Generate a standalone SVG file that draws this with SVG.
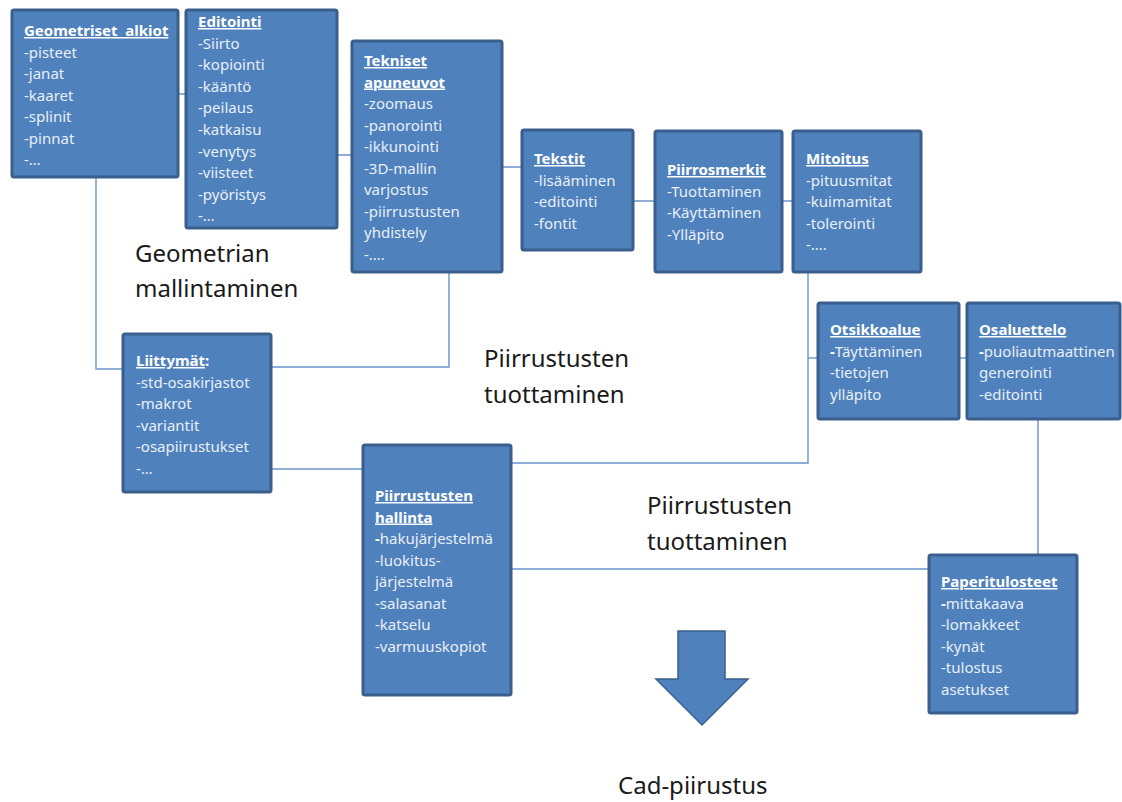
<svg xmlns="http://www.w3.org/2000/svg" width="1122" height="802" viewBox="0 0 1122 802">
  <defs>
    <style>
      .box { fill: #4f81bd; stroke: #3a5f8d; stroke-width: 3; }
      .link { fill: none; stroke: #6b93ca; stroke-width: 1.4; }
      .txt { font-family: "Noto Sans", "Liberation Sans", sans-serif; font-size: 15px; fill: #e9eff8; }
      .ttl { font-weight: bold; fill: #ffffff; text-decoration: underline; }
      .b { font-weight: bold; fill: #ffffff; }
      .big { font-family: "Noto Sans", "Liberation Sans", sans-serif; font-size: 24px; fill: #1a1a1a; }
    </style>
  </defs>
  <rect width="1122" height="802" fill="#ffffff"/>

  <!-- connectors -->
  <g id="connectors">
    <polyline class="link" points="179,94 263,94 263,155 352,155"/>
    <polyline class="link" points="96,178 96,369 123,369"/>
    <polyline class="link" points="449,272 449,367 272,367"/>
    <polyline class="link" points="478,167 623,167 623,201 793,201"/>
    <polyline class="link" points="808,272 808,463 511,463"/>
    <line class="link" x1="808" y1="358" x2="818" y2="358"/>
    <line class="link" x1="958" y1="358" x2="967" y2="358"/>
    <line class="link" x1="272" y1="469" x2="362" y2="469"/>
    <polyline class="link" points="1038,420 1038,569 511,569"/>
    <line class="link" x1="1038" y1="569" x2="929" y2="569"/>
  </g>

  <!-- boxes -->
  <g id="geometriset-alkiot">
    <rect class="box" x="12" y="10" width="166" height="167" rx="2"/>
    <text class="txt" x="24" y="36"><tspan class="ttl" xml:space="preserve">Geometriset  alkiot</tspan>
      <tspan x="24" dy="21.5">-pisteet</tspan>
      <tspan x="24" dy="21.5">-janat</tspan>
      <tspan x="24" dy="21.5">-kaaret</tspan>
      <tspan x="24" dy="21.5">-splinit</tspan>
      <tspan x="24" dy="21.5">-pinnat</tspan>
      <tspan x="24" dy="21.5">-…</tspan>
    </text>
  </g>

  <g id="editointi">
    <rect class="box" x="186" y="10" width="151" height="218" rx="2"/>
    <text class="txt" x="198" y="27"><tspan class="ttl">Editointi</tspan>
      <tspan x="198" dy="21.6">-Siirto</tspan>
      <tspan x="198" dy="21.6">-kopiointi</tspan>
      <tspan x="198" dy="21.6">-kääntö</tspan>
      <tspan x="198" dy="21.6">-peilaus</tspan>
      <tspan x="198" dy="21.6">-katkaisu</tspan>
      <tspan x="198" dy="21.6">-venytys</tspan>
      <tspan x="198" dy="21.6">-viisteet</tspan>
      <tspan x="198" dy="21.6">-pyöristys</tspan>
      <tspan x="198" dy="21.6">-…</tspan>
    </text>
  </g>

  <g id="tekniset-apuneuvot">
    <rect class="box" x="352" y="41" width="150" height="231" rx="2"/>
    <text class="txt" x="364" y="66"><tspan class="ttl">Tekniset</tspan>
      <tspan x="364" dy="21.5" class="ttl">apuneuvot</tspan>
      <tspan x="364" dy="21.5">-zoomaus</tspan>
      <tspan x="364" dy="21.5">-panorointi</tspan>
      <tspan x="364" dy="21.5">-ikkunointi</tspan>
      <tspan x="364" dy="21.5">-3D-mallin</tspan>
      <tspan x="364" dy="21.5">varjostus</tspan>
      <tspan x="364" dy="21.5">-piirrustusten</tspan>
      <tspan x="364" dy="21.5">yhdistely</tspan>
      <tspan x="364" dy="21.5">-….</tspan>
    </text>
  </g>

  <g id="tekstit">
    <rect class="box" x="522" y="130" width="111" height="120" rx="2"/>
    <text class="txt" x="534" y="164"><tspan class="ttl">Tekstit</tspan>
      <tspan x="534" dy="21.5">-lisääminen</tspan>
      <tspan x="534" dy="21.5">-editointi</tspan>
      <tspan x="534" dy="21.5">-fontit</tspan>
    </text>
  </g>

  <g id="piirrosmerkit">
    <rect class="box" x="655" y="131" width="127" height="141" rx="2"/>
    <text class="txt" x="667" y="175"><tspan class="ttl">Piirrosmerkit</tspan>
      <tspan x="667" dy="21.5">-Tuottaminen</tspan>
      <tspan x="667" dy="21.5">-Käyttäminen</tspan>
      <tspan x="667" dy="21.5">-Ylläpito</tspan>
    </text>
  </g>

  <g id="mitoitus">
    <rect class="box" x="793" y="131" width="128" height="141" rx="2"/>
    <text class="txt" x="806" y="164"><tspan class="ttl">Mitoitus</tspan>
      <tspan x="806" dy="21.5">-pituusmitat</tspan>
      <tspan x="806" dy="21.5">-kuimamitat</tspan>
      <tspan x="806" dy="21.5">-tolerointi</tspan>
      <tspan x="806" dy="21.5">-….</tspan>
    </text>
  </g>

  <g id="otsikkoalue">
    <rect class="box" x="818" y="303" width="141" height="116" rx="2"/>
    <text class="txt" x="830" y="335"><tspan class="ttl">Otsikkoalue</tspan>
      <tspan x="830" dy="21.5"><tspan class="b">-</tspan>Täyttäminen</tspan>
      <tspan x="830" dy="21.5">-tietojen</tspan>
      <tspan x="830" dy="21.5">ylläpito</tspan>
    </text>
  </g>

  <g id="osaluettelo">
    <rect class="box" x="967" y="303" width="153" height="116" rx="2"/>
    <text class="txt" x="979" y="335"><tspan class="ttl">Osaluettelo</tspan>
      <tspan x="979" dy="21.5"><tspan class="b">-</tspan>puoliautmaattinen</tspan>
      <tspan x="979" dy="21.5">generointi</tspan>
      <tspan x="979" dy="21.5">-editointi</tspan>
    </text>
  </g>

  <g id="liittymat">
    <rect class="box" x="123" y="334" width="148" height="158" rx="2"/>
    <text class="txt" x="136" y="366"><tspan class="ttl">Liittymät</tspan><tspan class="b">:</tspan>
      <tspan x="136" dy="21.5">-std-osakirjastot</tspan>
      <tspan x="136" dy="21.5">-makrot</tspan>
      <tspan x="136" dy="21.5">-variantit</tspan>
      <tspan x="136" dy="21.5">-osapiirustukset</tspan>
      <tspan x="136" dy="21.5">-…</tspan>
    </text>
  </g>

  <g id="piirrustusten-hallinta">
    <rect class="box" x="363" y="445" width="148" height="250" rx="2"/>
    <text class="txt" x="375" y="501"><tspan class="ttl">Piirrustusten</tspan>
      <tspan x="375" dy="21.5" class="ttl">hallinta</tspan>
      <tspan x="375" dy="21.5"><tspan class="b">-</tspan>hakujärjestelmä</tspan>
      <tspan x="375" dy="21.5">-luokitus-</tspan>
      <tspan x="375" dy="21.5">järjestelmä</tspan>
      <tspan x="375" dy="21.5">-salasanat</tspan>
      <tspan x="375" dy="21.5">-katselu</tspan>
      <tspan x="375" dy="21.5">-varmuuskopiot</tspan>
    </text>
  </g>

  <g id="paperitulosteet">
    <rect class="box" x="929" y="555" width="148" height="158" rx="2"/>
    <text class="txt" x="941" y="587"><tspan class="ttl">Paperitulosteet</tspan>
      <tspan x="941" dy="21.5"><tspan class="b">-</tspan>mittakaava</tspan>
      <tspan x="941" dy="21.5">-lomakkeet</tspan>
      <tspan x="941" dy="21.5">-kynät</tspan>
      <tspan x="941" dy="21.5">-tulostus</tspan>
      <tspan x="941" dy="21.5">asetukset</tspan>
    </text>
  </g>

  <!-- output arrow -->
  <g id="output-arrow">
    <polygon points="678,631 725,631 725,679 748,679 702,725 656,679 678,679" fill="#4f81bd" stroke="#3a5f8d" stroke-width="1.5" stroke-linejoin="miter"/>
  </g>

  <!-- area labels -->
  <g id="labels">
    <text class="big" x="135" y="262">Geometrian</text>
    <text class="big" x="135" y="297">mallintaminen</text>
    <text class="big" x="484" y="367">Piirrustusten</text>
    <text class="big" x="484" y="403">tuottaminen</text>
    <text class="big" x="647" y="514">Piirrustusten</text>
    <text class="big" x="647" y="550">tuottaminen</text>
    <text class="big" x="618" y="794">Cad-piirustus</text>
  </g>
</svg>
